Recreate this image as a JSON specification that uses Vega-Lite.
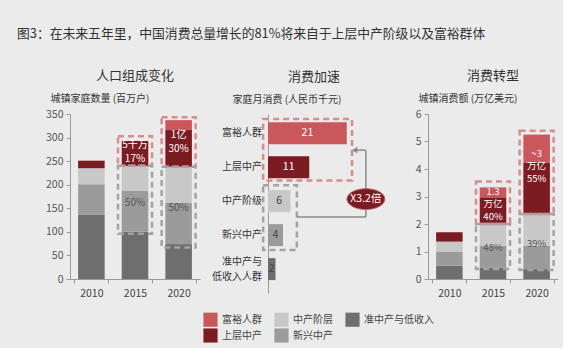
{
  "$schema": "https://vega.github.io/schema/vega-lite/v6.json",
  "background": "#ebebeb",
  "padding": {"left": 17, "top": 28, "right": 5, "bottom": 5},
  "bounds": "flush",
  "spacing": 68,
  "title": {"text": "图3：在未来五年里，中国消费总量增长的81%将来自于上层中产阶级以及富裕群体", "anchor": "start", "frame": "group", "fontSize": 12.8, "fontWeight": "normal", "color": "#333333", "font": "Noto Sans CJK SC", "offset": 29, "dx": -53},
  "config": {
    "font": "Noto Sans CJK SC",
    "view": {"stroke": null},
    "title": {"fontSize": 13, "fontWeight": "normal", "color": "#333333", "font": "Noto Sans CJK SC"},
    "axis": {"labelFont": "Noto Sans CJK SC", "titleFont": "Noto Sans CJK SC", "grid": false, "domainColor": "#9a9a9a", "tickColor": "#9a9a9a", "labelColor": "#555555", "titleColor": "#333333", "titleFontWeight": "normal", "titleFontSize": 10, "labelFontSize": 10.5},
    "legend": {"labelFont": "Noto Sans CJK SC"}
  },
  "resolve": {"scale": {"color": "shared"}},
  "datasets": {
    "p1": [
      {"year": "2010", "seg": "准中产与低收入", "value": 136, "rank": 1},
      {"year": "2010", "seg": "新兴中产", "value": 65, "rank": 2},
      {"year": "2010", "seg": "中产阶层", "value": 34, "rank": 3},
      {"year": "2010", "seg": "上层中产", "value": 16, "rank": 4},
      {"year": "2015", "seg": "准中产与低收入", "value": 100, "rank": 1},
      {"year": "2015", "seg": "新兴中产", "value": 87, "rank": 2},
      {"year": "2015", "seg": "中产阶层", "value": 53, "rank": 3},
      {"year": "2015", "seg": "上层中产", "value": 53, "rank": 4},
      {"year": "2020", "seg": "准中产与低收入", "value": 74, "rank": 1},
      {"year": "2020", "seg": "新兴中产", "value": 87, "rank": 2},
      {"year": "2020", "seg": "中产阶层", "value": 77, "rank": 3},
      {"year": "2020", "seg": "上层中产", "value": 79, "rank": 4},
      {"year": "2020", "seg": "富裕人群", "value": 20, "rank": 5}
    ],
    "p1box": [
      {"year": "2015", "kind": "red", "lo": 240, "hi": 303},
      {"year": "2015", "kind": "grey", "lo": 96, "hi": 240},
      {"year": "2020", "kind": "red", "lo": 238, "hi": 343},
      {"year": "2020", "kind": "grey", "lo": 67, "hi": 238}
    ],
    "p1text": [
      {"year": "2015", "kind": "red", "pos": 284, "t": "5千万\n17%"},
      {"year": "2020", "kind": "red", "pos": 306, "t": "1亿\n30%"},
      {"year": "2015", "kind": "grey", "pos": 162, "t": "50%"},
      {"year": "2020", "kind": "grey", "pos": 151, "t": "50%"}
    ],
    "p3": [
      {"year": "2010", "seg": "准中产与低收入", "value": 0.48, "rank": 1},
      {"year": "2010", "seg": "新兴中产", "value": 0.52, "rank": 2},
      {"year": "2010", "seg": "中产阶层", "value": 0.36, "rank": 3},
      {"year": "2010", "seg": "上层中产", "value": 0.34, "rank": 4},
      {"year": "2015", "seg": "准中产与低收入", "value": 0.42, "rank": 1},
      {"year": "2015", "seg": "新兴中产", "value": 0.79, "rank": 2},
      {"year": "2015", "seg": "中产阶层", "value": 0.83, "rank": 3},
      {"year": "2015", "seg": "上层中产", "value": 0.93, "rank": 4},
      {"year": "2015", "seg": "富裕人群", "value": 0.36, "rank": 5},
      {"year": "2020", "seg": "准中产与低收入", "value": 0.36, "rank": 1},
      {"year": "2020", "seg": "新兴中产", "value": 0.85, "rank": 2},
      {"year": "2020", "seg": "中产阶层", "value": 1.15, "rank": 3},
      {"year": "2020", "seg": "上层中产", "value": 1.88, "rank": 4},
      {"year": "2020", "seg": "富裕人群", "value": 1.01, "rank": 5}
    ],
    "p3box": [
      {"year": "2015", "kind": "red", "lo": 2.0, "hi": 3.55},
      {"year": "2015", "kind": "grey", "lo": 0.36, "hi": 2.0},
      {"year": "2020", "kind": "red", "lo": 2.36, "hi": 5.39},
      {"year": "2020", "kind": "grey", "lo": 0.33, "hi": 2.36}
    ],
    "p3text": [
      {"year": "2015", "kind": "red", "pos": 3.18, "t": "1.3\n万亿\n40%"},
      {"year": "2020", "kind": "red", "pos": 4.55, "t": "~3\n万亿\n55%"},
      {"year": "2015", "kind": "grey", "pos": 1.13, "t": "48%"},
      {"year": "2020", "kind": "grey", "pos": 1.28, "t": "39%"}
    ],
    "p2": [
      {"label": "富裕人群", "seg": "富裕人群", "value": 21, "rank": 1},
      {"label": "上层中产", "seg": "上层中产", "value": 11, "rank": 2},
      {"label": "中产阶级", "seg": "中产阶层", "value": 6, "rank": 3},
      {"label": "新兴中产", "seg": "新兴中产", "value": 4, "rank": 4},
      {"label": "准中产与\n低收入人群", "seg": "准中产与低收入", "value": 2, "rank": 5}
    ],
    "p2box": [
      {"kind": "red", "x1": -1.3, "x2": 22.4, "y1": 0.58, "y2": 2.39},
      {"kind": "grey", "x1": -1.3, "x2": 7.7, "y1": 2.53, "y2": 4.44}
    ],
    "p2conn": [
      {"x1": 7.7, "x2": 26.1, "y1": 3.47, "y2": 3.47},
      {"x1": 26.1, "x2": 26.1, "y1": 3.47, "y2": 1.5},
      {"x1": 26.1, "x2": 23.4, "y1": 1.5, "y2": 1.5}
    ],
    "p2arrow": [{"x": 23.1, "y": 1.5}],
    "p2badge": [{"x": 26.1, "y": 2.94, "t": "X3.2倍"}]
  },
  "hconcat": [
    {
      "width": 130,
      "height": 165,
      "title": {"text": "人口组成变化", "offset": 10},
      "layer": [
        {
          "data": {"name": "p1"},
          "mark": {"type": "bar", "width": {"band": 0.78}},
          "encoding": {
            "x": {"field": "year", "type": "ordinal", "scale": {"paddingInner": 0.22, "paddingOuter": 0.1},
                  "axis": {"title": null, "labelAngle": 0, "tickBand": "extent", "tickSize": 4, "labelPadding": 5, "labelColor": "#444444"}},
            "y": {"field": "value", "type": "quantitative", "stack": "zero", "scale": {"domain": [0, 350], "nice": false},
                  "axis": {"title": "城镇家庭数量 (百万户)", "values": [0, 50, 100, 150, 200, 250, 300, 350], "tickSize": 4, "labelPadding": 3, "labelOverlap": false,
                           "titleAngle": 0, "titleAlign": "left", "titleBaseline": "middle", "titleX": -20, "titleY": -16}},
            "color": {"field": "seg", "type": "nominal",
                      "scale": {"domain": ["富裕人群", "中产阶层", "准中产与低收入", "上层中产", "新兴中产"],
                                "range": ["#c9575c", "#c8c8c8", "#6e6e6e", "#7b1b22", "#9b9b9b"]},
                      "legend": {"orient": "none", "legendX": 133, "legendY": 198, "columns": 3, "direction": "horizontal", "title": null,
                                 "symbolType": "square", "symbolSize": 200, "symbolStrokeWidth": 0, "labelFontSize": 10, "labelColor": "#444444",
                                 "columnPadding": 12, "rowPadding": 1, "labelOffset": 4}},
            "order": {"field": "rank"}
          }
        },
        {
          "data": {"name": "p1box"},
          "transform": [{"filter": "datum.kind == 'red'"}],
          "mark": {"type": "bar", "width": {"band": 1}, "fill": "transparent", "stroke": "#d98c90", "strokeWidth": 2.5, "strokeDash": [6, 4]},
          "encoding": {
            "x": {"field": "year", "type": "ordinal"},
            "y": {"field": "lo", "type": "quantitative",
                  "axis": {"title": "城镇家庭数量 (百万户)", "values": [0, 50, 100, 150, 200, 250, 300, 350], "tickSize": 4, "labelPadding": 3, "labelOverlap": false,
                           "titleAngle": 0, "titleAlign": "left", "titleBaseline": "middle", "titleX": -20, "titleY": -16}},
            "y2": {"field": "hi"}
          }
        },
        {
          "data": {"name": "p1box"},
          "transform": [{"filter": "datum.kind == 'grey'"}],
          "mark": {"type": "bar", "width": {"band": 1}, "fill": "transparent", "stroke": "#a3a3a3", "strokeWidth": 2.5, "strokeDash": [6, 4]},
          "encoding": {
            "x": {"field": "year", "type": "ordinal"},
            "y": {"field": "lo", "type": "quantitative",
                  "axis": {"title": "城镇家庭数量 (百万户)", "values": [0, 50, 100, 150, 200, 250, 300, 350], "tickSize": 4, "labelPadding": 3, "labelOverlap": false,
                           "titleAngle": 0, "titleAlign": "left", "titleBaseline": "middle", "titleX": -20, "titleY": -16}},
            "y2": {"field": "hi"}
          }
        },
        {
          "data": {"name": "p1text"},
          "mark": {"type": "text", "lineBreak": "\n", "fontSize": 10, "lineHeight": 14, "baseline": "middle"},
          "encoding": {
            "x": {"field": "year", "type": "ordinal"},
            "y": {"field": "pos", "type": "quantitative",
                  "axis": {"title": "城镇家庭数量 (百万户)", "values": [0, 50, 100, 150, 200, 250, 300, 350], "tickSize": 4, "labelPadding": 3, "labelOverlap": false,
                           "titleAngle": 0, "titleAlign": "left", "titleBaseline": "middle", "titleX": -20, "titleY": -16}},
            "text": {"field": "t"},
            "color": {"condition": {"test": "datum.kind == 'red'", "value": "#ffffff"}, "value": "#555555"}
          }
        }
      ]
    },
    {
      "width": 92,
      "height": 179,
      "title": {"text": "消费加速", "offset": 10},
      "resolve": {"scale": {"x": "independent"}},
      "layer": [
        {
          "data": {"name": "p2"},
          "mark": {"type": "bar", "orient": "horizontal", "size": 22},
          "encoding": {
            "x": {"field": "value", "type": "quantitative", "scale": {"domain": [0, 24.53], "nice": false}, "axis": null},
            "y": {"field": "rank", "type": "quantitative", "scale": {"domain": [0.583, 5.556], "reverse": true, "nice": false, "zero": false},
                  "axis": {"title": "家庭月消费 (人民币千元)", "labels": false, "ticks": false, "values": [],
                           "titleAngle": 0, "titleAlign": "left", "titleBaseline": "middle", "titleX": -36, "titleY": -15}},
            "color": {"field": "seg", "type": "nominal"}
          }
        },
        {
          "data": {"name": "p2box"},
          "transform": [{"filter": "datum.kind == 'red'"}],
          "mark": {"type": "rect", "fill": "transparent", "stroke": "#d98c90", "strokeWidth": 2.5, "strokeDash": [6, 4]},
          "encoding": {
            "x": {"field": "x1", "type": "quantitative", "scale": {"domain": [0, 24.53], "nice": false}, "axis": null},
            "x2": {"field": "x2"},
            "y": {"field": "y1", "type": "quantitative"},
            "y2": {"field": "y2"}
          }
        },
        {
          "data": {"name": "p2box"},
          "transform": [{"filter": "datum.kind == 'grey'"}],
          "mark": {"type": "rect", "fill": "transparent", "stroke": "#a3a3a3", "strokeWidth": 2.5, "strokeDash": [6, 4]},
          "encoding": {
            "x": {"field": "x1", "type": "quantitative", "scale": {"domain": [0, 24.53], "nice": false}, "axis": null},
            "x2": {"field": "x2"},
            "y": {"field": "y1", "type": "quantitative"},
            "y2": {"field": "y2"}
          }
        },
        {
          "data": {"name": "p2conn"},
          "mark": {"type": "rule", "color": "#8a8a8a", "strokeWidth": 1.5},
          "encoding": {
            "x": {"field": "x1", "type": "quantitative", "scale": {"domain": [0, 24.53], "nice": false}, "axis": null},
            "x2": {"field": "x2"},
            "y": {"field": "y1", "type": "quantitative"},
            "y2": {"field": "y2"}
          }
        },
        {
          "data": {"name": "p2arrow"},
          "mark": {"type": "point", "shape": "triangle-left", "filled": true, "size": 40, "color": "#8a8a8a", "opacity": 1},
          "encoding": {
            "x": {"field": "x", "type": "quantitative", "scale": {"domain": [0, 24.53], "nice": false}, "axis": null},
            "y": {"field": "y", "type": "quantitative"}
          }
        },
        {
          "data": {"name": "p2badge"},
          "mark": {"type": "point", "shape": "M-1,0A1,0.55 0 1,1 1,0A1,0.55 0 1,1 -1,0Z", "filled": true, "size": 1444, "color": "#7b1b22", "opacity": 1, "stroke": "#b86a6e", "strokeWidth": 1},
          "encoding": {
            "x": {"field": "x", "type": "quantitative", "scale": {"domain": [0, 24.53], "nice": false}, "axis": null},
            "y": {"field": "y", "type": "quantitative"}
          }
        },
        {
          "data": {"name": "p2badge"},
          "mark": {"type": "text", "fontSize": 10.5, "color": "#ffffff", "baseline": "middle"},
          "encoding": {
            "x": {"field": "x", "type": "quantitative", "scale": {"domain": [0, 24.53], "nice": false}, "axis": null},
            "y": {"field": "y", "type": "quantitative"},
            "text": {"field": "t"}
          }
        },
        {
          "data": {"name": "p2"},
          "mark": {"type": "text", "fontSize": 10.5, "baseline": "middle"},
          "encoding": {
            "x": {"field": "value", "type": "quantitative", "scale": {"domain": [0, 49.06], "nice": false}, "axis": null},
            "y": {"field": "rank", "type": "quantitative"},
            "text": {"field": "value"},
            "color": {"condition": {"test": "datum.value > 8", "value": "#ffffff"}, "value": "#444444"}
          }
        },
        {
          "data": {"name": "p2"},
          "transform": [{"filter": "datum.rank < 5"}],
          "mark": {"type": "text", "fontSize": 10, "baseline": "middle", "align": "right", "dx": -6, "color": "#333333"},
          "encoding": {
            "x": {"datum": 0, "type": "quantitative", "scale": {"domain": [0, 24.53], "nice": false}, "axis": null},
            "y": {"field": "rank", "type": "quantitative"},
            "text": {"field": "label"}
          }
        },
        {
          "data": {"name": "p2"},
          "transform": [{"filter": "datum.rank == 5"}],
          "mark": {"type": "text", "fontSize": 10, "baseline": "middle", "align": "right", "dx": -6, "dy": -7, "lineBreak": "\n", "lineHeight": 14.5, "color": "#333333"},
          "encoding": {
            "x": {"datum": 0, "type": "quantitative", "scale": {"domain": [0, 24.53], "nice": false}, "axis": null},
            "y": {"field": "rank", "type": "quantitative"},
            "text": {"field": "label"}
          }
        }
      ]
    },
    {
      "width": 130,
      "height": 165,
      "title": {"text": "消费转型", "offset": 10},
      "layer": [
        {
          "data": {"name": "p3"},
          "mark": {"type": "bar", "width": {"band": 0.78}},
          "encoding": {
            "x": {"field": "year", "type": "ordinal", "scale": {"paddingInner": 0.22, "paddingOuter": 0.1},
                  "axis": {"title": null, "labelAngle": 0, "tickBand": "extent", "tickSize": 4, "labelPadding": 5, "labelColor": "#444444"}},
            "y": {"field": "value", "type": "quantitative", "stack": "zero", "scale": {"domain": [0, 6], "nice": false},
                  "axis": {"title": "城镇消费额 (万亿美元)", "values": [0, 1, 2, 3, 4, 5, 6], "tickSize": 4, "labelPadding": 3, "labelOverlap": false,
                           "titleAngle": 0, "titleAlign": "left", "titleBaseline": "middle", "titleX": -10, "titleY": -16}},
            "color": {"field": "seg", "type": "nominal"},
            "order": {"field": "rank"}
          }
        },
        {
          "data": {"name": "p3box"},
          "transform": [{"filter": "datum.kind == 'red'"}],
          "mark": {"type": "bar", "width": {"band": 1}, "fill": "transparent", "stroke": "#d98c90", "strokeWidth": 2.5, "strokeDash": [6, 4]},
          "encoding": {
            "x": {"field": "year", "type": "ordinal"},
            "y": {"field": "lo", "type": "quantitative",
                  "axis": {"title": "城镇消费额 (万亿美元)", "values": [0, 1, 2, 3, 4, 5, 6], "tickSize": 4, "labelPadding": 3, "labelOverlap": false,
                           "titleAngle": 0, "titleAlign": "left", "titleBaseline": "middle", "titleX": -10, "titleY": -16}},
            "y2": {"field": "hi"}
          }
        },
        {
          "data": {"name": "p3box"},
          "transform": [{"filter": "datum.kind == 'grey'"}],
          "mark": {"type": "bar", "width": {"band": 1}, "fill": "transparent", "stroke": "#a3a3a3", "strokeWidth": 2.5, "strokeDash": [6, 4]},
          "encoding": {
            "x": {"field": "year", "type": "ordinal"},
            "y": {"field": "lo", "type": "quantitative",
                  "axis": {"title": "城镇消费额 (万亿美元)", "values": [0, 1, 2, 3, 4, 5, 6], "tickSize": 4, "labelPadding": 3, "labelOverlap": false,
                           "titleAngle": 0, "titleAlign": "left", "titleBaseline": "middle", "titleX": -10, "titleY": -16}},
            "y2": {"field": "hi"}
          }
        },
        {
          "data": {"name": "p3text"},
          "mark": {"type": "text", "lineBreak": "\n", "fontSize": 9.5, "lineHeight": 12.5, "baseline": "middle"},
          "encoding": {
            "x": {"field": "year", "type": "ordinal"},
            "y": {"field": "pos", "type": "quantitative",
                  "axis": {"title": "城镇消费额 (万亿美元)", "values": [0, 1, 2, 3, 4, 5, 6], "tickSize": 4, "labelPadding": 3, "labelOverlap": false,
                           "titleAngle": 0, "titleAlign": "left", "titleBaseline": "middle", "titleX": -10, "titleY": -16}},
            "text": {"field": "t"},
            "color": {"condition": {"test": "datum.kind == 'red'", "value": "#ffffff"}, "value": "#555555"}
          }
        }
      ]
    }
  ]
}
